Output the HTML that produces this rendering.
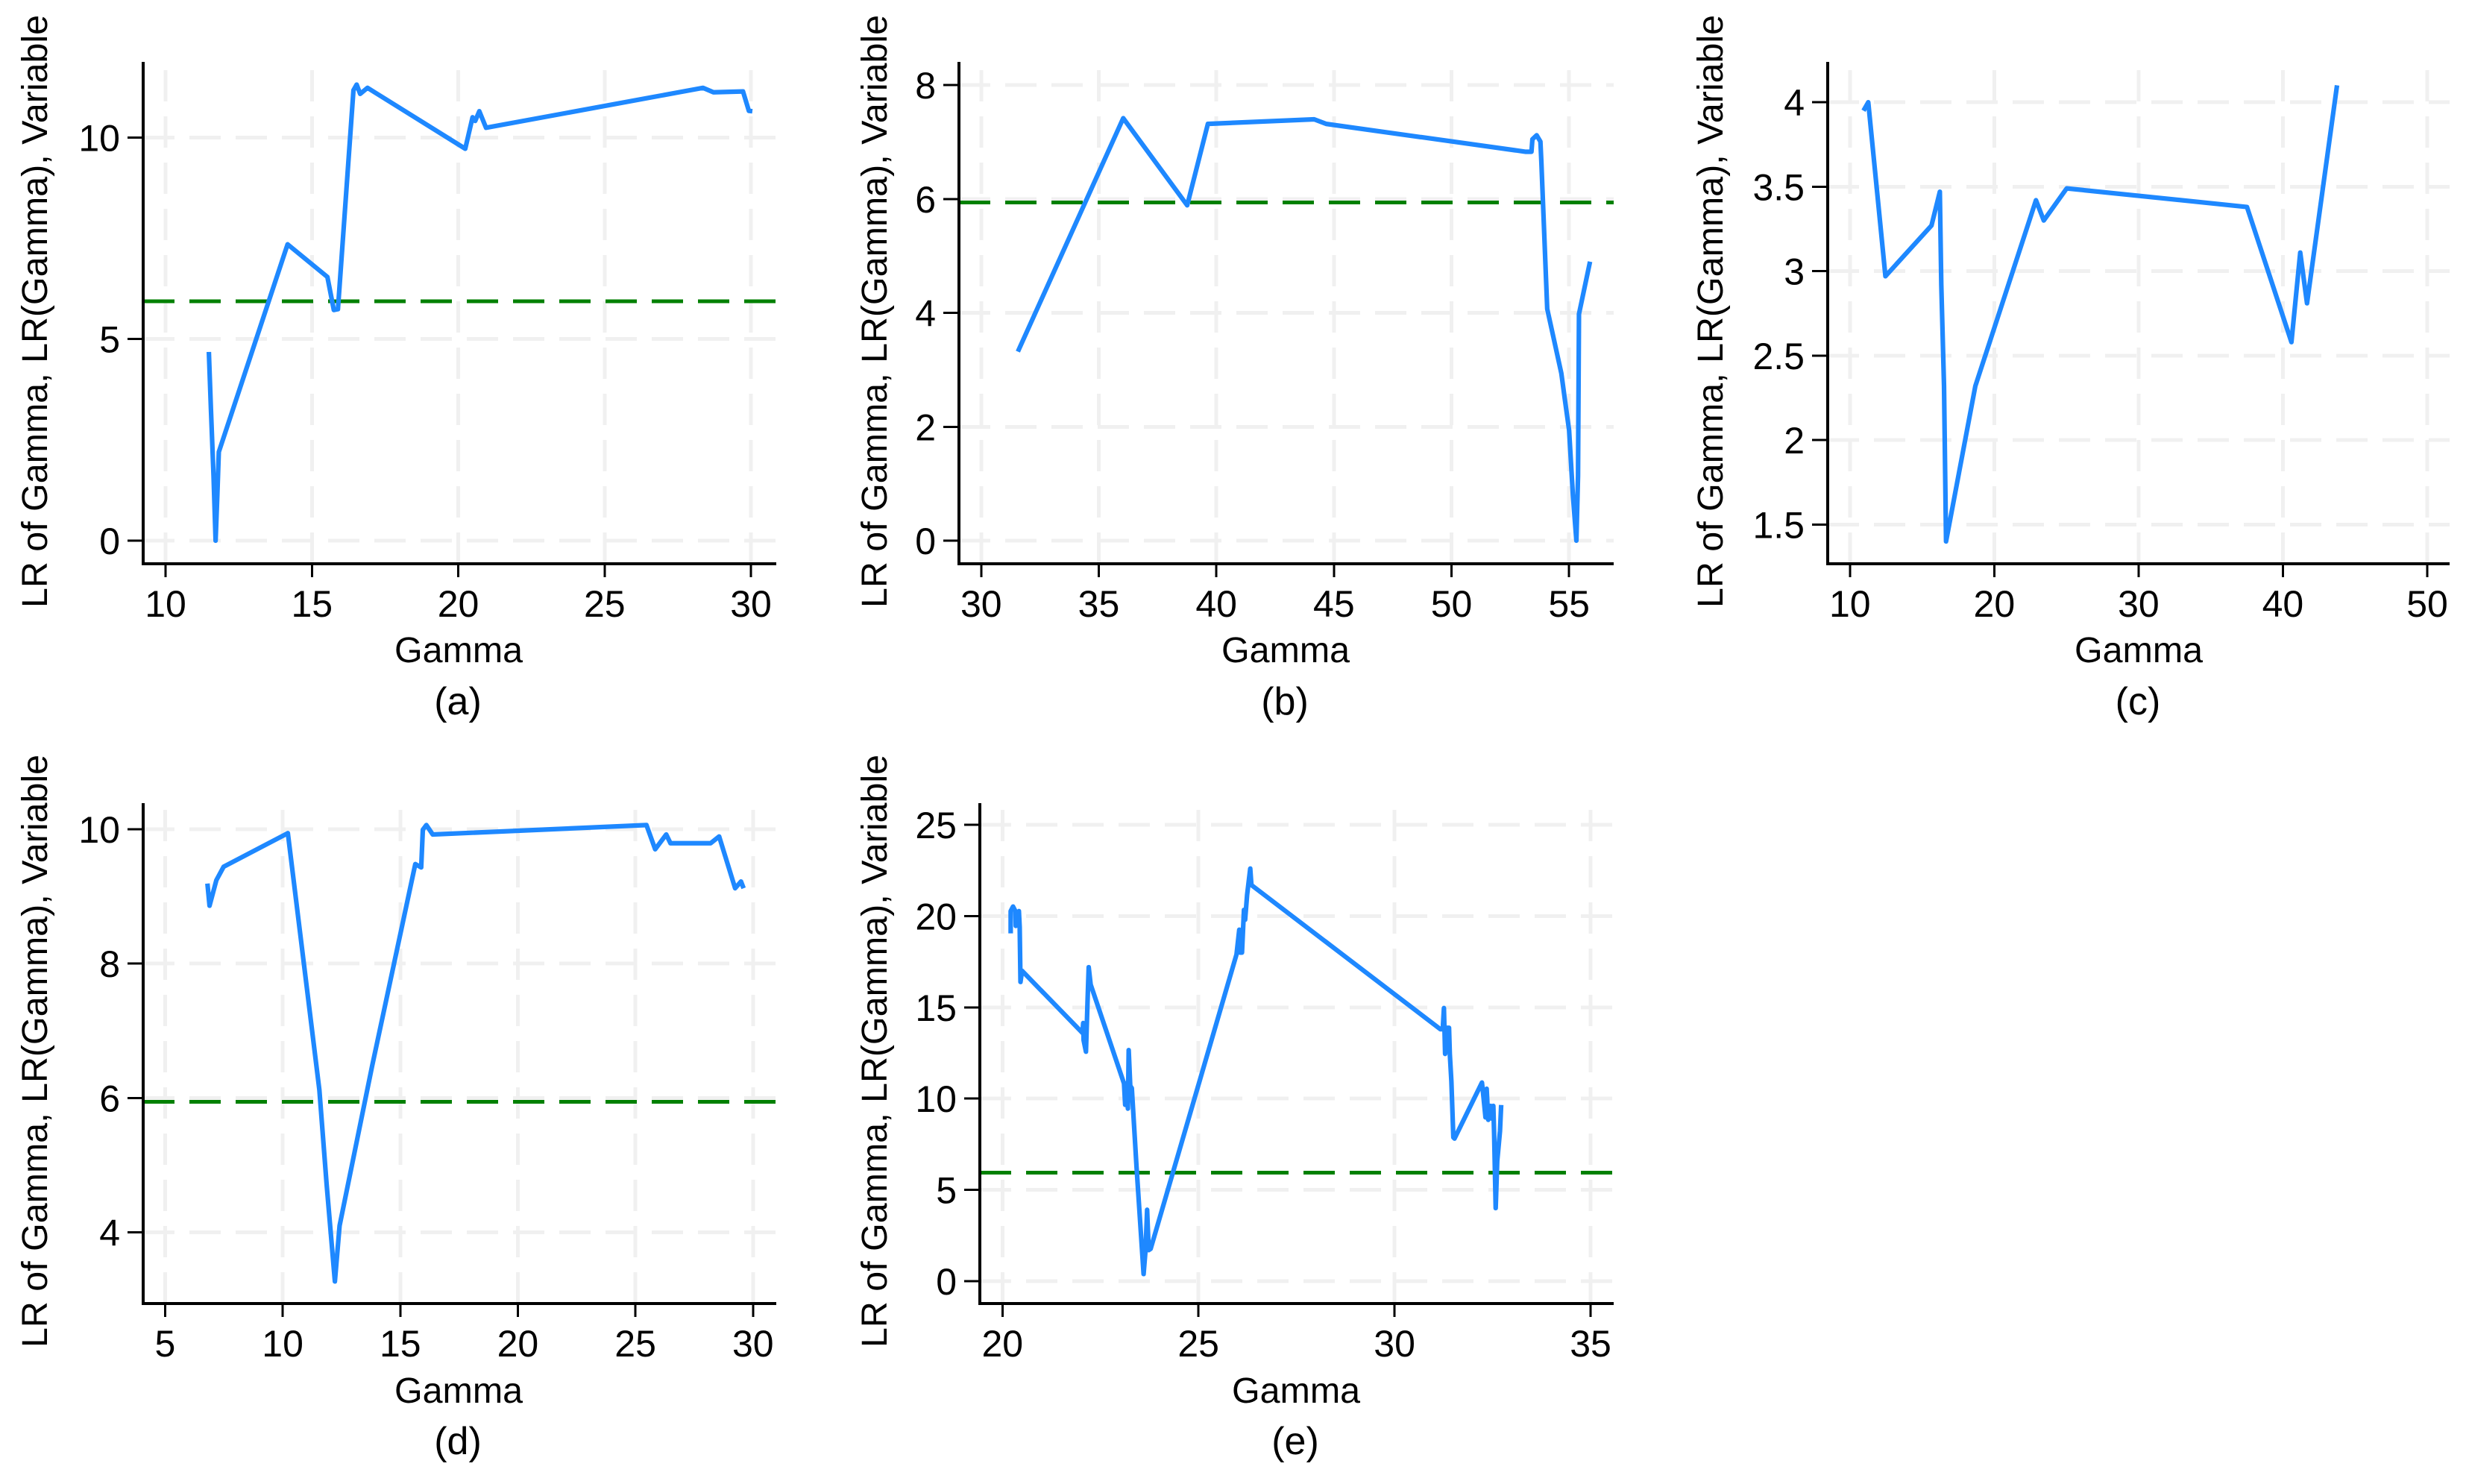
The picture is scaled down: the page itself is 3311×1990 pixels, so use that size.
<!DOCTYPE html>
<html lang="en">
<head>
<meta charset="utf-8">
<title>LR of Gamma panels</title>
<style>
  html, body { margin: 0; padding: 0; background: #ffffff; }
  svg { display: block; }
  text { font-family: "Liberation Sans", Arial, sans-serif; font-size: 48.4px; fill: #000000; }
  .caption { font-size: 52px; }
  .tick-label { font-size: 50px; }
  .grid { stroke: #f0f0f0; stroke-width: 5; fill: none; stroke-dasharray: 42 20; shape-rendering: crispEdges; }
  .crit { stroke: #008000; stroke-width: 5; fill: none; stroke-dasharray: 42 20; shape-rendering: crispEdges; }
  .axis { stroke: #000000; stroke-width: 4; fill: none; shape-rendering: crispEdges; }
  .tick { stroke: #000000; stroke-width: 3; fill: none; shape-rendering: crispEdges; }
  .lr { stroke: #1e88ff; stroke-width: 6.2; fill: none; stroke-linejoin: round; stroke-linecap: butt; }
</style>
</head>
<body>
<svg id="chart" xmlns="http://www.w3.org/2000/svg" width="3311" height="1990" viewBox="0 0 3311 1990">
  <rect x="0" y="0" width="3311" height="1990" fill="#ffffff"/>

  <g id="panel-a">
    <text transform="translate(63 815) rotate(-90)">LR of Gamma, LR(Gamma), Variable</text>
    <text x="615" y="888" text-anchor="middle">Gamma</text>
    <text class="caption" x="614" y="958" text-anchor="middle">(a)</text>
  </g>
  <g id="panel-b">
    <text transform="translate(1189 815) rotate(-90)">LR of Gamma, LR(Gamma), Variable</text>
    <text x="1724" y="888" text-anchor="middle">Gamma</text>
    <text class="caption" x="1723" y="958" text-anchor="middle">(b)</text>
  </g>
  <g id="panel-c">
    <text transform="translate(2310 815) rotate(-90)">LR of Gamma, LR(Gamma), Variable</text>
    <text x="2868" y="888" text-anchor="middle">Gamma</text>
    <text class="caption" x="2867" y="958" text-anchor="middle">(c)</text>
  </g>
  <g id="panel-d">
    <text transform="translate(63 1807) rotate(-90)">LR of Gamma, LR(Gamma), Variable</text>
    <text x="615" y="1881" text-anchor="middle">Gamma</text>
    <text class="caption" x="614" y="1950" text-anchor="middle">(d)</text>
  </g>
  <g id="panel-e">
    <text transform="translate(1189 1807) rotate(-90)">LR of Gamma, LR(Gamma), Variable</text>
    <text x="1738" y="1881" text-anchor="middle">Gamma</text>
    <text class="caption" x="1737" y="1950" text-anchor="middle">(e)</text>
  </g>
</svg>

<script>
// ---------- chart data ----------
const criticalValue = 5.94;

const xTicksA = [10, 15, 20, 25, 30];
const yTicksA = [0, 5, 10];
const gammaA = [11.48, 11.55, 11.64, 11.71, 11.77, 11.82, 14.17, 15.53, 15.75, 15.89, 16.42, 16.53, 16.65, 16.9, 20.24, 20.49, 20.58, 20.72, 20.95, 28.36, 28.72, 29.73, 29.93, 30.05];
const lrA = [4.68, 3.27, 1.6, 0, 1.14, 2.2, 7.35, 6.54, 5.72, 5.74, 11.17, 11.31, 11.08, 11.23, 9.72, 10.5, 10.41, 10.65, 10.24, 11.23, 11.12, 11.14, 10.66, 10.65];

const xTicksB = [30, 35, 40, 45, 50, 55];
const yTicksB = [0, 2, 4, 6, 8];
const gammaB = [31.56, 36.04, 38.76, 39.64, 44.16, 44.67, 53.16, 53.4, 53.44, 53.62, 53.78, 53.82, 54.07, 54.67, 54.82, 55, 55.16, 55.31, 55.38, 55.42, 55.89];
const lrB = [3.32, 7.42, 5.89, 7.32, 7.4, 7.32, 6.83, 6.83, 7.05, 7.12, 7.01, 6.66, 4.07, 2.94, 2.48, 1.94, 0.81, 0, 1.14, 3.98, 4.9];

const xTicksC = [10, 20, 30, 40, 50];
const yTicksC = [1.5, 2, 2.5, 3, 3.5, 4];
const gammaC = [10.94, 11.27, 12.46, 15.65, 16.23, 16.33, 16.52, 16.66, 18.69, 22.89, 23.43, 25.02, 37.51, 40.59, 41.2, 41.67, 43.75];
const lrC = [3.95, 4.0, 2.97, 3.27, 3.47, 2.92, 2.32, 1.4, 2.32, 3.42, 3.3, 3.49, 3.38, 2.58, 3.11, 2.81, 4.1];

const xTicksD = [5, 10, 15, 20, 25, 30];
const yTicksD = [4, 6, 8, 10];
const gammaD = [6.8, 6.89, 7.18, 7.49, 10.22, 11.56, 11.87, 12.22, 12.42, 13.8, 15.64, 15.89, 15.96, 16.11, 16.38, 25.47, 25.84, 26.31, 26.49, 28.2, 28.56, 29.24, 29.49, 29.6];
const lrD = [9.19, 8.86, 9.24, 9.44, 9.94, 6.12, 4.71, 3.27, 4.1, 6.47, 9.48, 9.43, 9.99, 10.06, 9.92, 10.06, 9.7, 9.92, 9.79, 9.79, 9.89, 9.12, 9.22, 9.12];

const xTicksE = [20, 25, 30, 35];
const yTicksE = [0, 5, 10, 15, 20, 25];
const gammaE = [20.21, 20.21, 20.27, 20.33, 20.34, 20.42, 20.44, 20.46, 20.5, 22.04, 22.06, 22.07, 22.13, 22.17, 22.2, 22.25, 23.1, 23.13, 23.16, 23.2, 23.22, 23.26, 23.3, 23.42, 23.6, 23.65, 23.69, 23.73, 23.78, 25.97, 26.04, 26.06, 26.11, 26.16, 26.19, 26.24, 26.32, 26.35, 31.17, 31.23, 31.26, 31.29, 31.34, 31.39, 31.41, 31.45, 31.5, 31.53, 32.23, 32.26, 32.32, 32.35, 32.39, 32.43, 32.45, 32.49, 32.52, 32.54, 32.58, 32.62, 32.69, 32.72];
const lrE = [19.05, 20.27, 20.52, 20.27, 19.46, 20.27, 19.4, 16.39, 17.0, 13.6, 14.14, 13.2, 12.57, 15.3, 17.2, 16.25, 10.83, 9.66, 10.83, 9.45, 12.66, 10.7, 10.57, 6.26, 0.39, 1.7, 3.91, 1.7, 1.77, 17.9, 19.25, 18.0, 18.0, 20.34, 19.8, 21.16, 22.6, 21.7, 13.8, 13.8, 14.96, 12.45, 13.88, 13.88, 12.45, 10.95, 7.88, 7.81, 10.88, 10.27, 8.97, 10.54, 8.84, 9.1, 9.6, 8.9, 9.6, 8.09, 4.0, 6.59, 8.22, 9.65];

// ---------- drawing ----------
const SVG_NS = 'http://www.w3.org/2000/svg';

function linearScale(d0, p0, d1, p1) {
  return function (v) { return p0 + (v - d0) * (p1 - p0) / (d1 - d0); };
}

function makeLine(parent, cls, x1, y1, x2, y2) {
  const el = document.createElementNS(SVG_NS, 'line');
  el.setAttribute('class', cls);
  el.setAttribute('x1', x1);
  el.setAttribute('y1', y1);
  el.setAttribute('x2', x2);
  el.setAttribute('y2', y2);
  parent.appendChild(el);
  return el;
}

function makeText(parent, x, y, anchor, content) {
  const el = document.createElementNS(SVG_NS, 'text');
  el.setAttribute('class', 'tick-label');
  el.setAttribute('x', x);
  el.setAttribute('y', y);
  el.setAttribute('text-anchor', anchor);
  el.textContent = content;
  parent.appendChild(el);
  return el;
}

function drawPanel(id, frame, xTicks, yTicks, gamma, lr) {
  const group = document.getElementById('panel-' + id);
  const x = linearScale(frame.xd0, frame.xp0, frame.xd1, frame.xp1);
  const y = linearScale(frame.yd0, frame.yp0, frame.yd1, frame.yp1);

  xTicks.forEach(function (t) {
    const grid = makeLine(group, 'grid', x(t), frame.bottom, x(t), frame.top);
    
    
  });
  yTicks.forEach(function (t) {
    const grid = makeLine(group, 'grid', frame.left, y(t), frame.right, y(t));
    
    
  });

  if (y(criticalValue) >= frame.top) {
    const crit = makeLine(group, 'crit', frame.left, y(criticalValue), frame.right, y(criticalValue));
    
    
  }

  const path = document.createElementNS(SVG_NS, 'polyline');
  path.setAttribute('class', 'lr');
  path.setAttribute('points', gamma.map(function (g, i) { return x(g).toFixed(2) + ',' + y(lr[i]).toFixed(2); }).join(' '));
  
  
  group.appendChild(path);

  const yAxis = makeLine(group, 'axis', frame.left, frame.top, frame.left, frame.bottom + 2);
  
  
  const xAxis = makeLine(group, 'axis', frame.left - 2, frame.bottom, frame.right, frame.bottom);
  
  

  xTicks.forEach(function (t) {
    const tick = makeLine(group, 'tick', x(t), frame.bottom, x(t), frame.bottom + 18);
    
    
    const label = makeText(group, x(t), frame.bottom + 71, 'middle', String(t));
    
    
  });
  yTicks.forEach(function (t) {
    const tick = makeLine(group, 'tick', frame.left - 21, y(t), frame.left, y(t));
    
    
    const label = makeText(group, frame.left - 31, y(t) + 18, 'end', String(t));
    
    
  });
}

drawPanel('a', { left: 192, right: 1041, top: 83, bottom: 756, xd0: 10, xp0: 222, xd1: 30, xp1: 1007, yd0: 0, yp0: 725, yd1: 10, yp1: 184.3 }, xTicksA, yTicksA, gammaA, lrA);
drawPanel('b', { left: 1286, right: 2164, top: 83, bottom: 756, xd0: 30, xp0: 1315.8, xd1: 55, xp1: 2104.2, yd0: 0, yp0: 725, yd1: 8, yp1: 114.2 }, xTicksB, yTicksB, gammaB, lrB);
drawPanel('c', { left: 2451, right: 3285, top: 83, bottom: 756, xd0: 10, xp0: 2480.8, xd1: 50, xp1: 3255, yd0: 1.5, yp0: 703.4, yd1: 4, yp1: 137.1 }, xTicksC, yTicksC, gammaC, lrC);
drawPanel('d', { left: 192, right: 1041, top: 1077, bottom: 1748, xd0: 5, xp0: 221.4, xd1: 30, xp1: 1009.8, yd0: 4, yp0: 1652.6, yd1: 10, yp1: 1111.8 }, xTicksD, yTicksD, gammaD, lrD);
drawPanel('e', { left: 1314, right: 2164, top: 1077, bottom: 1748, xd0: 20, xp0: 1344.3, xd1: 35, xp1: 2133, yd0: 0, yp0: 1718, yd1: 25, yp1: 1106 }, xTicksE, yTicksE, gammaE, lrE);
</script>
</body>
</html>
